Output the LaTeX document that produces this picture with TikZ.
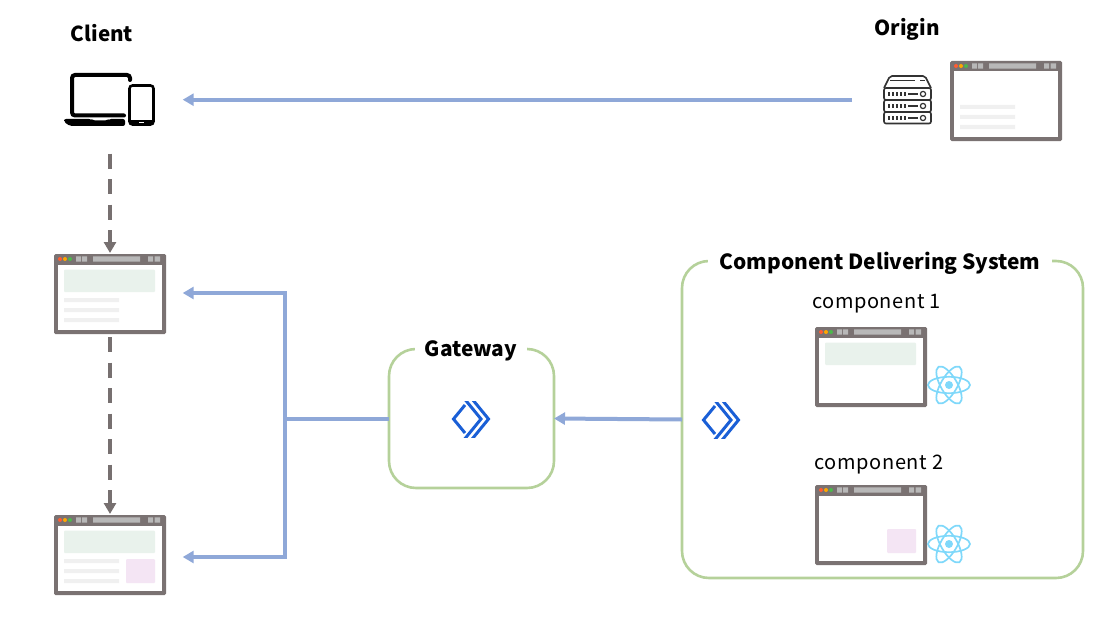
\documentclass[tikz,border=0pt]{standalone}
\usepackage{fontspec}
\setmainfont{Noto Sans CJK JP}
\usetikzlibrary{arrows.meta}
\definecolor{flow}{HTML}{8FA8D8}
\definecolor{grn}{HTML}{B5D19A}
\definecolor{frame}{HTML}{7A7272}
\definecolor{dash}{HTML}{777070}
\definecolor{tile}{HTML}{E9F2EC}
\definecolor{pinkt}{HTML}{F4E5F4}
\definecolor{linegr}{HTML}{F0F0F0}
\definecolor{btn}{HTML}{B8B8B8}
\definecolor{reactc}{HTML}{7FD8FA}
\definecolor{anyp}{HTML}{1A5FD6}
\definecolor{srv}{HTML}{333333}
\tikzset{
  x=1pt,y=-1pt,
  flowline/.style={draw=flow,line width=4pt},
  flowarrow/.style={flowline,-{Triangle[length=11pt,width=12pt]}},
  dasharrow/.style={draw=dash,line width=4pt,dash pattern=on 15pt off 10.5pt,-{Triangle[length=11pt,width=12pt]}},
  sysbox/.style={draw=grn,line width=2.6pt,rounded corners=27pt,inner sep=0pt,outer sep=0pt},
  boxtitle/.style={fill=white,inner sep=0pt,font=\bfseries\fontsize{20.9}{24}\selectfont},
  headtext/.style={inner sep=0pt,font=\bfseries\fontsize{20.6}{24}\selectfont},
  comptext/.style={inner sep=0pt,font=\fontsize{20}{24}\selectfont\addfontfeature{LetterSpace=3}},
  pics/browser/.style={code={
    \fill[frame,rounded corners=1.5pt] (0,0) rectangle (112,80);
    \fill[white] (4,10.5) rectangle (108,76);
    \fill[red!60!orange!80] (6,5) circle (2);
    \fill[orange!70!yellow] (11,5) circle (2);
    \fill[green!60!black!70] (16,5) circle (2);
    \fill[btn] (22,2.3) rectangle (27,7.7) (28,2.3) rectangle (33,7.7)
               (39,2.3) rectangle (86,7.7)
               (94,2.3) rectangle (99,7.7) (100.7,2.3) rectangle (106,7.7);
  }},
  pics/greentile/.style={code={\fill[tile,rounded corners=1pt] (10,15.7) rectangle (101,38);}},
  pics/pinktile/.style={code={\fill[pinkt,rounded corners=1pt] (72,44) rectangle (101,68);}},
  pics/textlines/.style={code={\fill[linegr] (10,44) rectangle (65,48) (10,54) rectangle (65,58) (10,64) rectangle (65,68);}},
  pics/reacticon/.style={code={
    \foreach \a in {0,60,120}{\draw[reactc,line width=1.7pt,rotate=\a] (0,0) ellipse (21 and 8.2);}
    \fill[reactc] (0,0) circle (4);
  }},
  pics/anypoint/.style={code={
    \draw[anyp,line width=3pt] (13,-14) -- (1.5,0) -- (13,14);
    \begin{scope}
    \clip (0,-18) rectangle (40,18);
    \draw[anyp,line width=3pt] (11,-22) -- (29,0) -- (11,22);
    \draw[anyp,line width=3pt] (18.5,-22) -- (36.5,0) -- (18.5,22);
    \end{scope}
  }},
}
\begin{document}
\begin{tikzpicture}
\useasboundingbox (0,0) rectangle (1110,623);
% labels
\node[headtext] (tclient) at (102,33) {Client};
\node[headtext] (torigin) at (907,29) {Origin};
% system boxes
\node[sysbox,minimum width=165pt,minimum height=139pt] (gw) at (471.5,418.5) {};
\node[sysbox,minimum width=401pt,minimum height=317pt] (cds) at (882.5,419.5) {};
\fill[white] (415,344) rectangle (527,354);
\fill[white] (708,255) rectangle (1052,266);
\node[boxtitle] (tgw) at (471,351) {Gateway};
\node[boxtitle] (tcds) at (880,263) {Component Delivering System};
\node[comptext] (tc1) at (876.5,303.5) {component 1};
\node[comptext] (tc2) at (879,464.5) {component 2};
% laptop
\draw[black,line width=4pt,line cap=round,rounded corners=3pt] (130,80) -- (130,75) -- (72,75) -- (72,115.5) -- (124,115.5);
\fill[black,rounded corners=2pt] (64,119) -- (91,119) -- (93,120.5) -- (107,120.5) -- (109,119) -- (125,119) -- (125,126) -- (70,126) -- (64,122) -- cycle;
% phone
\draw[black,line width=2.6pt,rounded corners=3pt] (129.5,85.5) rectangle (153.5,124.5);
\fill[black] (129.5,120) rectangle (153.5,124.5);
\fill[white] (139,122) rectangle (144,123.5);
% server
\begin{scope}[srv,line width=1.6pt,rounded corners=2pt]
\draw (884,88) -- (890,76) -- (925,76) -- (931,88);
\draw (884,88) rectangle (931,100);
\draw (884,100) rectangle (931,112);
\draw (884,112) rectangle (931,123.5);
\draw[line width=1.2pt] (890,80.5) -- (915,80.5) (920,80.5) -- (925,80.5);
\end{scope}
\foreach \y in {94,106,118}{
  \draw[srv,line width=1.2pt] (923,\y) circle (2.6);
  \draw[srv,line width=1.2pt] (908,\y) -- (918,\y);
  \foreach \x in {889,893,897,901,905}{\draw[srv,line width=1.4pt] (\x,\y-1.8) -- (\x,\y+1.8);}
}
% browsers
\pic at (950,61) {browser}; \pic at (950,61) {textlines};
\pic at (54,254) {browser}; \pic at (54,254) {greentile}; \pic at (54,254) {textlines};
\pic at (54,515) {browser}; \pic at (54,515) {greentile}; \pic at (54,515) {textlines}; \pic at (54,515) {pinktile};
\pic at (815,327) {browser}; \pic at (815,327) {greentile};
\pic at (815,485) {browser}; \pic at (815,485) {pinktile};
% icons
\pic at (949,385) {reacticon};
\pic at (949,544) {reacticon};
\pic at (452,419) {anypoint};
\pic at (702,420) {anypoint};
% connector ends
\coordinate (originout) at (852,99.7);
\coordinate (clientin) at (182.7,99.7);
\coordinate (clientout) at (110,153.7);
\coordinate (page1top) at (110,253);
\coordinate (page1out) at (110,337);
\coordinate (page2top) at (110,514);
\coordinate (page1in) at (182.7,293);
\coordinate (page2in) at (182.7,557);
\coordinate (junction) at (285,418.5);
\coordinate (up) at (285,293);
\coordinate (down) at (285,557);
% connectors
\draw[flowarrow] (originout) -- (clientin);
\draw[dasharrow] (clientout) -- (page1top);
\draw[dasharrow] (page1out) -- (page2top);
\draw[flowarrow] (cds.west) -- (gw.east);
\draw[flowline] (gw.west) -- (junction);
\draw[flowarrow] (junction) -- (up) -- (page1in);
\draw[flowarrow] (junction) -- (down) -- (page2in);
\end{tikzpicture}
\end{document}
